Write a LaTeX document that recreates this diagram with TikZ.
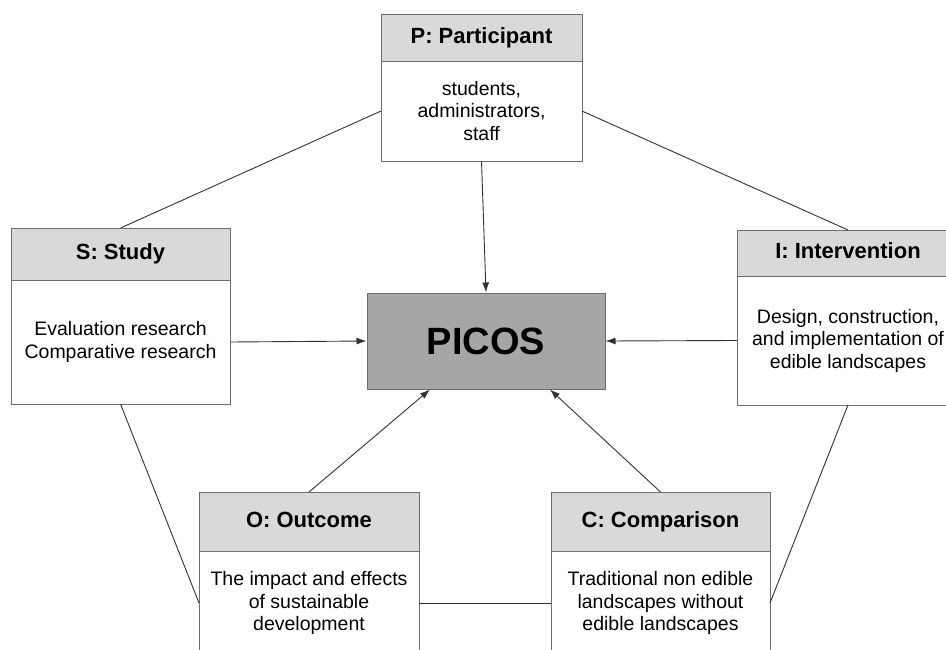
\documentclass[tikz,border=0pt]{standalone}
\usepackage{fontspec}
\setmainfont{Liberation Sans}
\usepackage{tikz}
\usepackage{xcolor}
\usetikzlibrary{positioning,arrows.meta}
\definecolor{hdrgray}{HTML}{D9D9D9}
\definecolor{picosgray}{HTML}{A6A6A6}
\definecolor{edgegray}{HTML}{6E6E6E}

\begin{document}
\begin{tikzpicture}[x=1pt,y=-1pt,
    hdr/.style={draw=edgegray,fill=hdrgray,line width=1pt,inner sep=0pt,outer sep=0pt,
      text height=15.5pt,text depth=4.5pt,font=\fontsize{22}{26}\selectfont\bfseries},
    txt/.style={draw=edgegray,fill=white,line width=1pt,inner sep=0pt,outer sep=0pt,align=center,
      font=\fontsize{19.5}{22.5}\selectfont},
    conn/.style={line width=0.9pt,color=black!80},
    arr/.style={conn,-{Latex[length=10pt,width=7pt]}}]
  \begin{scope}
    \clip (0,0) rectangle (946,649);
    \fill[white] (0,0) rectangle (946,649);
    % centre box
    \node[draw=edgegray,fill=picosgray,line width=1pt,minimum width=238pt,minimum height=96pt,
      font=\fontsize{38}{44}\selectfont\bfseries] (picos) at (486,341) {PICOS};
    % P
    \node[hdr,minimum width=201pt,minimum height=47pt] (Phead) at (481.5,37.5) {P: Participant};
    \node[txt,minimum width=201pt,minimum height=100pt,below=0pt of Phead] (Pbody) {students,\\administrators,\\staff};
    % S
    \node[hdr,minimum width=219pt,minimum height=52pt] (Shead) at (120.5,254) {S: Study};
    \node[txt,minimum width=219pt,minimum height=124pt,below=0pt of Shead] (Sbody) {Evaluation research\\Comparative research};
    % I
    \node[hdr,minimum width=222pt,minimum height=46pt] (Ihead) at (848,253) {I: Intervention};
    \node[txt,minimum width=222pt,minimum height=129pt,below=0pt of Ihead] (Ibody) {Design, construction,\\and implementation of\\edible landscapes};
    % O
    \node[hdr,minimum width=220pt,minimum height=59pt] (Ohead) at (309,521.5) {O: Outcome};
    \node[txt,minimum width=220pt,minimum height=104pt,below=0pt of Ohead] (Obody) {The impact and effects\\of sustainable\\development};
    % C
    \node[hdr,minimum width=219pt,minimum height=59pt] (Chead) at (660.5,521.5) {C: Comparison};
    \node[txt,minimum width=219pt,minimum height=104pt,below=0pt of Chead] (Cbody) {Traditional non edible\\landscapes without\\edible landscapes};
    % outer ring
    \draw[conn] (Pbody.west) -- (Shead.north);
    \draw[conn] (Pbody.east) -- (Ihead.north);
    \draw[conn] (Sbody.south) -- (Obody.west);
    \draw[conn] (Ibody.south) -- (Cbody.east);
    \draw[conn] (Obody.east) -- (Cbody.west);
    % arrows into PICOS
    \draw[arr] (Pbody.south) -- (picos.north);
    \draw[arr] (Sbody.east) -- (picos.west);
    \draw[arr] (Ibody.west) -- (picos.east);
    \draw[arr] (Ohead.north) -- ([xshift=-56pt]picos.south);
    \draw[arr] (Chead.north) -- ([xshift=64pt]picos.south);
  \end{scope}
\end{tikzpicture}
\end{document}
